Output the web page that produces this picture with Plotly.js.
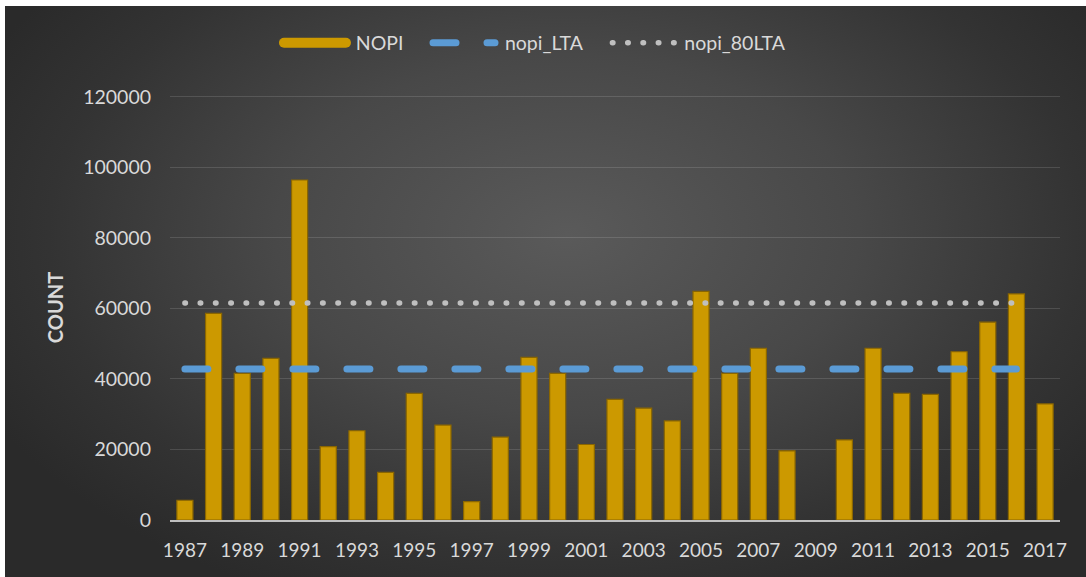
<!DOCTYPE html>
<html>
<head>
<meta charset="utf-8">
<script src="https://cdn.plot.ly/plotly-3.0.1.min.js"></script>
<style>
  html, body { margin: 0; padding: 0; background: #ffffff; width: 1086px; height: 577px; overflow: hidden; }
  #bg { position: absolute; left: 5px; top: 6px; width: 1081px; height: 571px;
        background: radial-gradient(ellipse 60% 70% at 52% 40%, #5a5a5a 0%, #484848 45%, #333333 80%, #2a2a2a 100%); }
  #chart { position: absolute; left: 0; top: 0; width: 1086px; height: 577px; }
  #chart path.js-line { stroke-linecap: round; }
</style>
</head>
<body>
<div id="bg"></div>
<div id="chart"></div>
<script>
const years = [1987,1988,1989,1990,1991,1992,1993,1994,1995,1996,1997,1998,1999,2000,2001,2002,
               2003,2004,2005,2006,2007,2008,2009,2010,2011,2012,2013,2014,2015,2016,2017];
const nopi = [5600,58600,41600,45800,96400,20800,25300,13500,35900,26900,5200,23500,46100,41600,21400,34200,
              31700,28100,64800,41600,48700,19600,null,22700,48700,35900,35600,47700,56100,64100,32900];
const lineYears = years.slice(0, 30);
const nopiLTA = lineYears.map(() => 42800);
const nopi80LTA = lineYears.map(() => 61500);
const tickYears = years.filter((y, i) => i % 2 === 0);

const fontFam = 'Lato, "Open Sans", sans-serif';
const txt = '#d9d9d9';
const gold = '#CC9900';
const lead = '\u2005';
const pad = '\u2002\u2002';

const traces = [
  { type: 'bar', name: 'NOPI', x: years, y: nopi, showlegend: false, legendgroup: 'nopi',
    marker: { color: gold, line: { color: '#8a6600', width: 1.2 } } },
  // legend entry for the bars (wide swatch as in the original)
  { type: 'scatter', mode: 'lines', name: lead + 'NOPI' + pad, x: [null], y: [null], legendgroup: 'nopi',
    line: { color: gold, width: 10 }, hoverinfo: 'skip' },
  { type: 'scatter', mode: 'lines', name: lead + 'nopi_LTA' + pad, x: lineYears, y: nopiLTA,
    line: { color: '#5B9BD5', width: 7, dash: '23px,31px' } },
  { type: 'scatter', mode: 'lines', name: lead + 'nopi_80LTA', x: lineYears, y: nopi80LTA,
    line: { color: '#BFBFBF', width: 5.5, dash: '0.5px,14.8px' } }
];

const layout = {
  width: 1086, height: 577,
  paper_bgcolor: 'rgba(0,0,0,0)', plot_bgcolor: 'rgba(0,0,0,0)',
  margin: { l: 170, r: 26, t: 95, b: 57 },
  bargap: 0.44,
  font: { family: fontFam, color: txt, size: 19 },
  showlegend: true,
  legend: { orientation: 'h', xref: 'container', x: 0.4926, xanchor: 'center',
            yref: 'container', y: 0.9255, yanchor: 'middle',
            font: { family: fontFam, color: txt, size: 19.5 }, itemwidth: 62, traceorder: 'normal',
            bgcolor: 'rgba(0,0,0,0)' },
  xaxis: { range: [1986.48, 2017.52], tickmode: 'array', tickvals: tickYears, ticktext: tickYears.map(String),
           showgrid: false, zeroline: false, showline: true, linecolor: '#bfbfbf', linewidth: 2,
           ticks: '', ticklabelstandoff: 12, tickfont: { family: fontFam, color: txt, size: 19 }, fixedrange: true },
  yaxis: { range: [0, 120500], tickmode: 'linear', tick0: 0, dtick: 20000, tickformat: 'd',
           showgrid: true, gridcolor: 'rgba(255,255,255,0.13)', gridwidth: 1, zeroline: false, showline: false,
           ticks: '', ticklabelstandoff: 18, tickfont: { family: fontFam, color: txt, size: 19.5 },
           title: { text: '<b>COUNT</b>', font: { family: fontFam, color: txt, size: 20 }, standoff: 14 },
           fixedrange: true }
};

Plotly.newPlot('chart', traces, layout, { displayModeBar: false, staticPlot: true });
</script>
</body>
</html>
